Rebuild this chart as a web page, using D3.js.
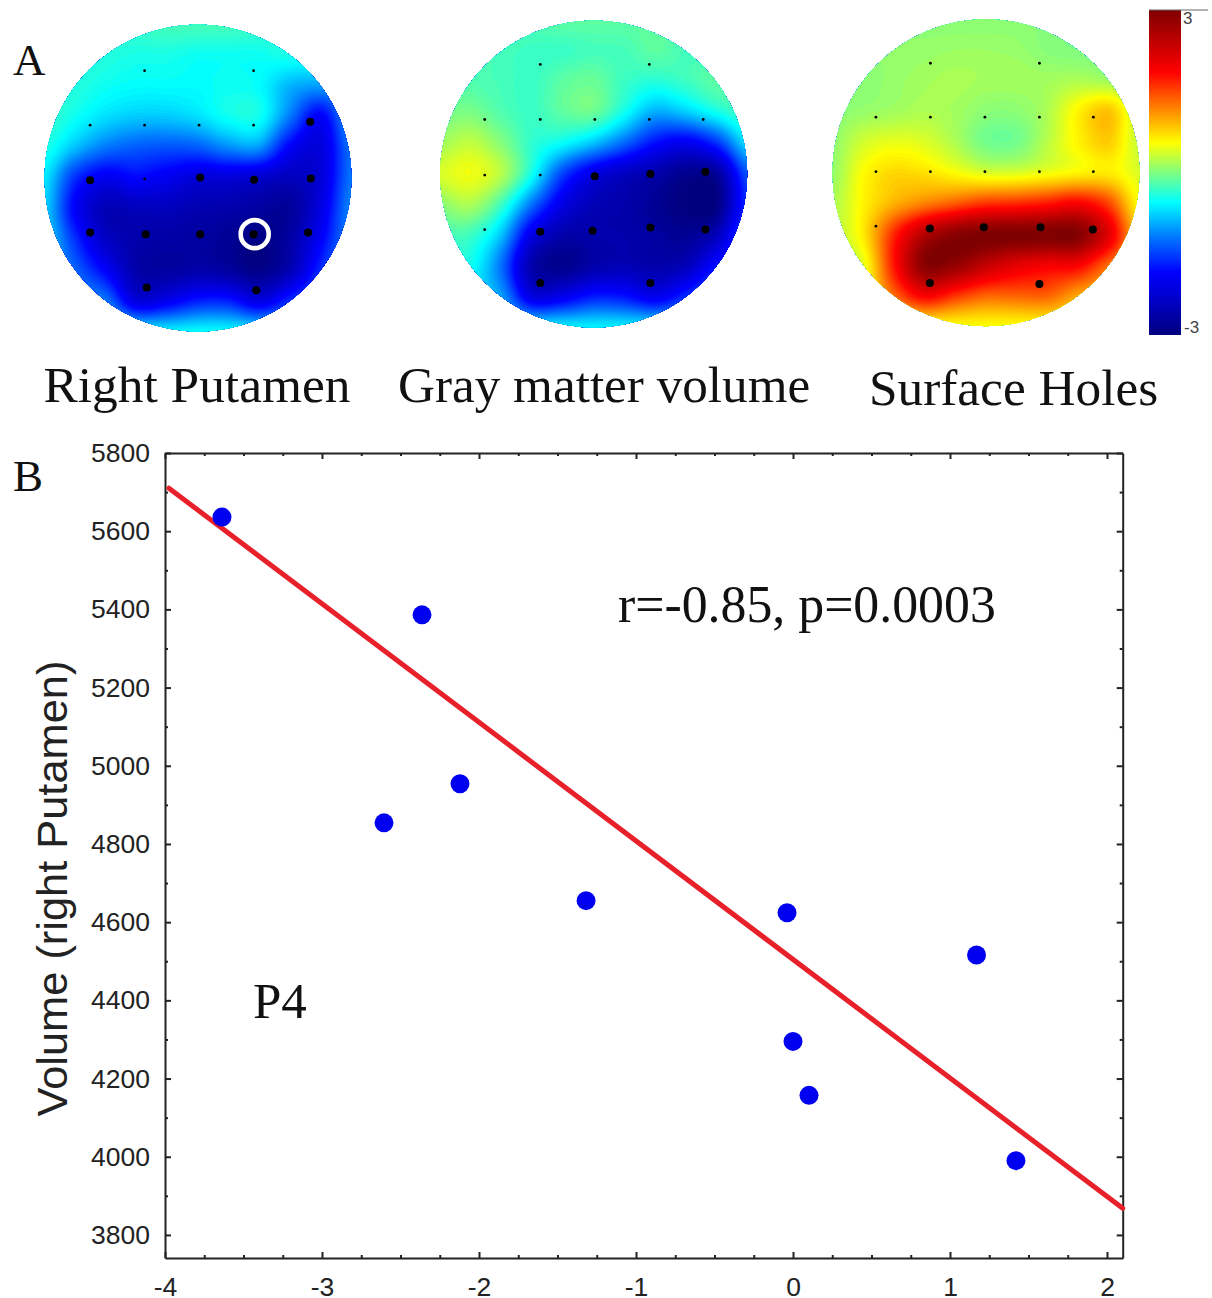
<!DOCTYPE html>
<html>
<head>
<meta charset="utf-8">
<script src="https://cdnjs.cloudflare.com/ajax/libs/d3/7.8.5/d3.min.js"></script>
<style>
  html, body { margin: 0; padding: 0; background: #fff; overflow: hidden; }
  svg { display: block; }
  .serif { font-family: "Liberation Serif", serif; fill: #111; }
  .sans { font-family: "Liberation Sans", sans-serif; fill: #222; }
  .axis text { font-family: "Liberation Sans", sans-serif; font-size: 26.5px; fill: #222; }
  .axis path, .axis line { stroke: #222; stroke-width: 2; }
</style>
</head>
<body>
<div id="chart"></div>
<script>
// scatter (panel B)
const pointX = [-3.637, -2.363, -2.121, -2.605, -1.318, -0.038, 1.169, 0, 0.102, 1.42];
const pointY = [5636, 5386, 4954, 4854, 4655, 4624, 4516, 4295, 4157, 3990];
const fitX = [-3.975, 2.1];
const fitY = [5710, 3868];
const xMajor = [-4, -3, -2, -1, 0, 1, 2];
const yMajor = [3800, 4000, 4200, 4400, 4600, 4800, 5000, 5200, 5400, 5600, 5800];
const xMinor = [-3.75, -3.5, -3.25, -2.75, -2.5, -2.25, -1.75, -1.5, -1.25, -0.75, -0.5, -0.25, 0.25, 0.5, 0.75, 1.25, 1.5, 1.75];
const yMinor = [3900, 4100, 4300, 4500, 4700, 4900, 5100, 5300, 5500, 5700];

// colour bar stops
const colorValues = [-3, -1.85, -1.15, -0.55, 0, 0.55, 1.2, 1.85, 3];
const colorStops = ["#00007f", "#0000ff", "#0080ff", "#00ffff", "#80ff80", "#ffff00", "#ff8000", "#ff0000", "#7f0000"];

// t-maps, 11 x 11 samples across each head
const mapPutamen = [
  [-0.3, -0.3, -0.3, -0.3, -0.25, -0.25, -0.25, -0.3, -0.35, -0.4, -0.4],
  [-0.35, -0.35, -0.4, -0.45, -0.45, -0.5, -0.5, -0.5, -0.45, -0.5, -0.5],
  [-0.35, -0.4, -0.5, -0.55, -0.55, -0.55, -0.5, -0.55, -0.9, -1.0, -0.8],
  [-0.3, -0.5, -0.7, -0.8, -0.8, -0.7, -0.5, -0.5, -1.2, -1.9, -0.9],
  [-0.42, -0.85, -1.2, -1.35, -1.4, -1.35, -1.1, -1.05, -1.9, -2.15, -1.2],
  [-0.65, -1.6, -2.0, -1.85, -2.0, -2.2, -2.2, -2.3, -2.45, -2.2, -1.2],
  [-0.75, -1.9, -2.5, -2.45, -2.45, -2.55, -2.6, -2.7, -2.75, -2.1, -1.1],
  [-0.7, -1.6, -2.35, -2.6, -2.65, -2.7, -2.8, -2.95, -2.65, -1.9, -1.1],
  [-0.8, -1.3, -1.9, -2.6, -2.7, -2.6, -2.7, -2.9, -2.5, -1.6, -1.0],
  [-0.7, -1.0, -1.2, -2.15, -2.0, -1.7, -1.7, -2.1, -1.6, -1.1, -0.9],
  [-0.6, -0.6, -0.6, -0.6, -0.6, -0.55, -0.55, -0.6, -0.7, -0.8, -0.8]
];
const mapGray = [
  [-0.2, -0.2, -0.2, -0.2, -0.15, -0.15, -0.15, -0.15, -0.2, -0.2, -0.2],
  [-0.2, -0.2, -0.25, -0.3, -0.3, -0.25, -0.25, -0.15, -0.25, -0.25, -0.25],
  [-0.15, -0.2, -0.25, -0.3, -0.15, -0.1, -0.3, -0.4, -0.3, -0.15, -0.15],
  [-0.05, -0.02, -0.2, -0.3, -0.15, -0.1, -0.5, -0.95, -0.8, -0.5, -0.25],
  [0.15, 0.28, 0.02, -0.35, -0.55, -0.85, -1.3, -1.8, -2.0, -1.6, -0.7],
  [0.38, 0.48, 0.22, -0.5, -1.5, -2.1, -2.4, -2.6, -2.85, -2.75, -1.4],
  [0.05, 0.18, -0.3, -1.25, -2.1, -2.5, -2.6, -2.8, -3, -2.95, -1.6],
  [-0.25, -0.3, -0.85, -2.1, -2.6, -2.6, -2.6, -2.7, -2.8, -2.45, -1.3],
  [-0.45, -0.5, -1.25, -2.6, -2.85, -2.6, -2.5, -2.6, -2.45, -1.75, -1.2],
  [-0.6, -0.7, -1.0, -2.1, -2.0, -1.7, -1.75, -2.0, -1.6, -1.1, -1.0],
  [-0.6, -0.6, -0.6, -0.6, -0.6, -0.6, -0.6, -0.6, -0.7, -0.8, -0.8]
];
const mapHoles = [
  [0.05, 0.05, 0.05, 0.05, 0.05, 0.05, 0.05, 0.03, 0.02, 0, 0],
  [0.05, 0.05, 0.1, 0.1, 0.12, 0.12, 0.1, 0.03, 0, 0, 0],
  [0.05, 0.05, 0.1, 0.15, 0.18, 0.15, 0.15, 0.15, 0.2, 0.15, 0.1],
  [0.05, 0.1, 0.15, 0.2, 0.15, 0.05, 0.05, 0.2, 0.6, 0.85, 0.25],
  [0.08, 0.35, 0.45, 0.4, 0.2, -0.05, -0.05, 0.25, 0.6, 0.8, 0.3],
  [0.1, 0.55, 0.75, 0.7, 0.55, 0.4, 0.4, 0.5, 0.6, 0.65, 0.4],
  [0.2, 0.6, 0.95, 1.2, 1.4, 1.6, 1.65, 1.75, 1.9, 1.5, 0.55],
  [0.25, 0.65, 1.65, 2.5, 2.9, 3, 3, 3, 2.95, 2.1, 0.8],
  [0.3, 0.45, 1.75, 2.9, 2.8, 2.4, 2.1, 1.95, 1.9, 1.3, 0.8],
  [0.4, 0.5, 1.3, 1.9, 1.6, 1.35, 1.35, 1.35, 1.0, 0.8, 0.6],
  [0.5, 0.5, 0.55, 0.55, 0.55, 0.55, 0.55, 0.55, 0.55, 0.55, 0.5]
];

// electrodes in grid units from the head centre: [col, row]
const smallPutamen = [[-0.98, -1.97], [1.02, -1.97], [-1.98, -0.97], [-0.98, -0.97], [0.02, -0.97], [1.02, -0.97], [-0.98, 0.02]];
const largePutamen = [[2.06, -1.03], [-1.98, 0.04], [0.04, -0.01], [1.03, 0.03], [2.07, 0.01], [-1.98, 1], [-0.96, 1.03], [0.04, 1.03], [1.02, 1.03], [2.02, 1], [-0.94, 2.01], [1.07, 2.06]];
const smallGray = [[-0.98, -2.01], [1.02, -2.01], [-2, -1], [-0.98, -1], [0.02, -1], [1.02, -1], [2.01, -1], [-2, 0.02], [-0.98, 0.02], [-2, 1.02]];
const largeGray = [[0.02, 0.04], [1.04, 0], [2.05, -0.04], [-0.98, 1.06], [-0.02, 1.04], [1.04, 0.98], [2.05, 1.02], [-0.98, 2], [1.04, 2]];
const smallHoles = [[-1.02, -2.01], [0.98, -2.01], [-2.02, -1.02], [-1.02, -1.02], [-0.02, -1.02], [0.98, -1.02], [1.97, -1.02], [-2.02, -0.02], [-1.02, -0.02], [-0.02, -0.02], [0.98, -0.02], [1.97, -0.02], [-2.02, 0.98]];
const largeHoles = [[-1.03, 1.02], [-0.04, 1], [1, 1], [1.96, 1.04], [-1.03, 2.02], [0.98, 2.04]];
const markedElectrode = [[1.04, 1.03]];

const width = 1212, height = 1298;
const headRadius = 153.5, dotSpacing = 54.5;

const svg = d3.select("#chart").append("svg")
  .attr("width", width)
  .attr("height", height);

const color = d3.scaleLinear().domain(colorValues).range(colorStops).clamp(true);

// smooth the hand-read samples for the contour fill
function catmull(p0, p1, p2, p3, t) {
  return 0.5 * (2 * p1 + (p2 - p0) * t + (2 * p0 - 5 * p1 + 4 * p2 - p3) * t * t + (3 * p1 - p0 - 3 * p2 + p3) * t * t * t);
}

function upsample(grid, n) {
  const last = grid.length - 1;
  const at = (r, c) => grid[Math.max(0, Math.min(last, r))][Math.max(0, Math.min(last, c))];
  const values = new Array(n * n);
  for (let j = 0; j < n; j++) {
    const gy = j / (n - 1) * last, r = Math.min(last - 1, Math.floor(gy)), ty = gy - r;
    for (let i = 0; i < n; i++) {
      const gx = i / (n - 1) * last, c = Math.min(last - 1, Math.floor(gx)), tx = gx - c;
      const col = [-1, 0, 1, 2].map((dr) => catmull(at(r + dr, c - 1), at(r + dr, c), at(r + dr, c + 1), at(r + dr, c + 2), tx));
      values[j * n + i] = catmull(col[0], col[1], col[2], col[3], ty);
    }
  }
  return values;
}

function drawHead(id, cx, cy, grid, small, large) {
  const n = 155;
  const thresholds = d3.range(-3.2, 3.2, 0.04);
  const contours = d3.contours().size([n, n]).thresholds(thresholds)(upsample(grid, n));
  const scale = (headRadius * 2) / (n - 1);

  svg.append("clipPath").attr("id", id)
    .append("circle").attr("cx", cx).attr("cy", cy).attr("r", headRadius);

  svg.append("g")
    .attr("clip-path", `url(#${id})`)
    .append("g")
    .attr("transform", `translate(${cx - headRadius - scale / 2},${cy - headRadius - scale / 2}) scale(${scale})`)
    .selectAll("path")
    .data(contours)
    .join("path")
    .attr("d", d3.geoPath())
    .attr("fill", (d) => color(d.value + 0.02));

  const gx = d3.scaleLinear().domain([0, 1]).range([cx, cx + dotSpacing]);
  const gy = d3.scaleLinear().domain([0, 1]).range([cy, cy + dotSpacing]);
  svg.append("g").selectAll("circle").data(small).join("circle")
    .attr("cx", (d) => gx(d[0])).attr("cy", (d) => gy(d[1])).attr("r", 1.4).attr("fill", "#000");
  svg.append("g").selectAll("circle").data(large).join("circle")
    .attr("cx", (d) => gx(d[0])).attr("cy", (d) => gy(d[1])).attr("r", 4).attr("fill", "#000");
  return [gx, gy];
}

const [px, py] = drawHead("head1", 198, 178, mapPutamen, smallPutamen, largePutamen);
drawHead("head2", 593.7, 174, mapGray, smallGray, largeGray);
drawHead("head3", 986, 172.8, mapHoles, smallHoles, largeHoles);

svg.selectAll(".marked").data(markedElectrode).join("circle")
  .attr("class", "marked")
  .attr("cx", (d) => px(d[0])).attr("cy", (d) => py(d[1]))
  .attr("r", 14).attr("fill", "none").attr("stroke", "#fff").attr("stroke-width", 4.6);

// colour bar
const barGradient = svg.append("defs").append("linearGradient")
  .attr("id", "bar").attr("x1", 0).attr("x2", 0).attr("y1", 1).attr("y2", 0);
barGradient.selectAll("stop").data(colorValues).join("stop")
  .attr("offset", (d) => (d + 3) / 6)
  .attr("stop-color", (d) => color(d));
const barScale = d3.scaleLinear().domain([3, -3]).range([10, 335]);
svg.append("rect")
  .attr("x", 1149).attr("width", 32)
  .attr("y", barScale(3)).attr("height", barScale(-3) - barScale(3))
  .attr("fill", "url(#bar)");
svg.append("line").attr("x1", 1149).attr("x2", 1208).attr("y1", 10).attr("y2", 10).attr("stroke", "#666").attr("stroke-width", 1);
svg.append("text").attr("class", "sans").attr("x", 1183).attr("y", 24).attr("font-size", 17).style("fill", "#444").text("3");
svg.append("text").attr("class", "sans").attr("x", 1184).attr("y", 333).attr("font-size", 17).style("fill", "#444").text("-3");

// labels
const labels = [
  ["A", 13, 75, 45],
  ["B", 13, 491, 45],
  ["Right Putamen", 43.5, 402, 51.4],
  ["Gray matter volume", 398, 402, 51.2],
  ["Surface Holes", 869, 405, 51.3],
  ["r=-0.85, p=0.0003", 618, 622, 51.8],
  ["P4", 253, 1018, 51]
];
svg.append("g").selectAll("text").data(labels).join("text")
  .attr("class", "serif")
  .attr("x", (d) => d[1]).attr("y", (d) => d[2]).attr("font-size", (d) => d[3])
  .text((d) => d[0]);

// panel B
const x = d3.scaleLinear().domain([-4, 2.1]).range([165, 1122.7]);
const y = d3.scaleLinear().domain([3741, 5800]).range([1258, 453]);

function addAxis(makeAxis, scale, major, minor, tx, ty, padding) {
  const g = svg.append("g").attr("class", "axis").attr("transform", `translate(${tx},${ty})`);
  g.call(makeAxis(scale).tickValues(major).tickSizeOuter(0).tickSizeInner(-6)
    .tickPadding(padding).tickFormat((d) => (padding ? String(d) : "")));
  const minorG = svg.append("g").attr("class", "axis").attr("transform", `translate(${tx},${ty})`);
  minorG.call(makeAxis(scale).tickValues(minor).tickSizeOuter(0).tickSizeInner(-3).tickFormat(""));
  minorG.select(".domain").remove();
}

addAxis(d3.axisBottom, x, xMajor, xMinor, 0, 1258, 19);
addAxis(d3.axisTop, x, xMajor, xMinor, 0, 453, 0);
addAxis(d3.axisLeft, y, yMajor, yMinor, 165, 0, 15);
addAxis(d3.axisRight, y, yMajor, yMinor, 1122.7, 0, 0);

svg.append("line")
  .attr("x1", x(fitX[0])).attr("y1", y(fitY[0]))
  .attr("x2", x(fitX[1])).attr("y2", y(fitY[1]))
  .attr("stroke", "#e8202a").attr("stroke-width", 5).attr("stroke-linecap", "round");

svg.append("g").selectAll("circle").data(pointX).join("circle")
  .attr("cx", (d) => x(d))
  .attr("cy", (d, i) => y(pointY[i]))
  .attr("r", 9.5)
  .attr("fill", "#0000f0");

svg.append("text")
  .attr("class", "sans")
  .attr("transform", "translate(67,888.5) rotate(-90)")
  .attr("text-anchor", "middle")
  .attr("font-size", 43.4)
  .text("Volume (right Putamen)");
</script>
</body>
</html>
